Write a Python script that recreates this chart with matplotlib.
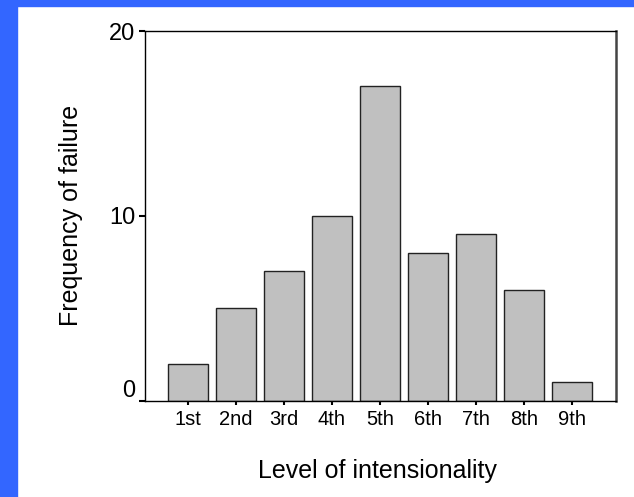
import matplotlib
matplotlib.use("Agg")
import matplotlib.pyplot as plt
import matplotlib.transforms as mtransforms
from matplotlib.patches import Rectangle

categories = ["1st", "2nd", "3rd", "4th", "5th", "6th", "7th", "8th", "9th"]
values = [2, 5, 7, 10, 17, 8, 9, 6, 1]
yticks = [0, 10, 20]

plt.rcParams['font.family'] = ['Liberation Sans', 'DejaVu Sans']

W, H = 634, 497
fig = plt.figure(figsize=(W / 100, H / 100), dpi=100)
fig.patch.set_facecolor('white')

# blue frame (left and top bands)
blue = '#3366FF'
fig.patches.append(Rectangle((0, 0), 17 / W, 1, transform=fig.transFigure, color=blue, zorder=0))
fig.patches.append(Rectangle((0, 1 - 6 / H), 1, 6 / H, transform=fig.transFigure, color=blue, zorder=0))

ax = fig.add_axes([145 / W, (H - 400.7) / H, (616 - 145) / W, (400.7 - 31) / H])
x = list(range(1, len(categories) + 1))
ax.bar(x, values, width=0.84, color='#C0C0C0', edgecolor='#222222', linewidth=1.0)
ax.set_xlim(0.104, 9.917)
ax.set_ylim(0, 20)
ax.set_xticks(x)
ax.set_xticklabels(categories, fontsize=14.5)
ax.set_yticks(yticks)
ax.set_yticklabels([str(v) for v in yticks], fontsize=17)
ax.tick_params(axis='x', length=3, width=1.5, pad=4, color='black')
ax.tick_params(axis='y', length=4, width=1.5, pad=3, color='black')
for s in ['left', 'bottom', 'top']:
    ax.spines[s].set_color('black')
    ax.spines[s].set_linewidth(1.0)
ax.spines['right'].set_color('#444444')
ax.spines['right'].set_linewidth(1.8)

# the "0" label sits a little above its tick in the reference
lbl0 = ax.get_yticklabels()[0]
lbl0.set_transform(lbl0.get_transform() + mtransforms.ScaledTranslation(0, 12 / 100, fig.dpi_scale_trans))

fig.text(71 / W, 1 - 215 / H, "Frequency of failure", rotation=90, ha='center', va='center', fontsize=18)
fig.text(377 / W, 1 - 478 / H, "Level of intensionality", ha='center', va='baseline', fontsize=18)

fig.savefig("out.png", dpi=100)
